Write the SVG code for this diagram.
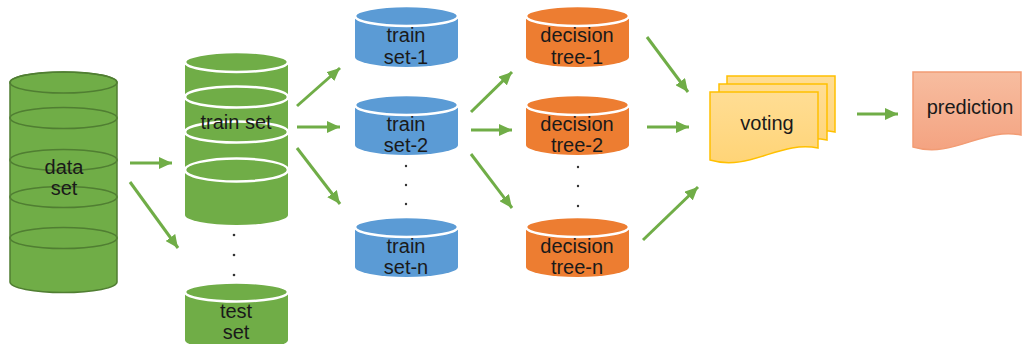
<svg xmlns="http://www.w3.org/2000/svg" width="1022" height="344" viewBox="0 0 1022 344">
  <defs>
    <marker id="head" markerUnits="userSpaceOnUse" markerWidth="14" markerHeight="12" refX="13" refY="6" orient="auto">
      <path d="M0,0 L13,6 L0,12 Z" fill="#70AD47"/>
    </marker>
    <linearGradient id="gVote" x1="0" y1="0" x2="0" y2="1">
      <stop offset="0" stop-color="#FFDD94"/>
      <stop offset="1" stop-color="#FFD477"/>
    </linearGradient>
    <linearGradient id="gPred" x1="0" y1="0" x2="0" y2="1">
      <stop offset="0" stop-color="#F7BDA0"/>
      <stop offset="1" stop-color="#F4A381"/>
    </linearGradient>
  </defs>
  <style>
    text { font-family: "Liberation Sans", Arial, sans-serif; font-size: 20px; fill: #1a1a1a; text-anchor: middle; }
    .green { fill: #70AD47; }
    .blue { fill: #5B9BD5; }
    .orange { fill: #ED7D31; }
    .rim { fill: none; stroke: #FFFFFF; stroke-width: 2.5; }
    .rimDark { fill: none; stroke: #507E32; stroke-width: 1.5; }
    .conn { stroke: #70AD47; stroke-width: 3; fill: none; marker-end: url(#head); }
    .dot { fill: #333333; }
  </style>

  <!-- full data set -->
  <g id="data-set">
    <path class="green" stroke="#507E32" stroke-width="1.5" d="M10,82.5 V282 A53.5,10.5 0 0 0 117,282 V82.5 A53.5,10.5 0 0 0 10,82.5 Z"/>
    <ellipse class="rimDark" cx="63.5" cy="82.5" rx="53.5" ry="10.5"/>
    <ellipse class="rimDark" cx="63.5" cy="118" rx="53.5" ry="10.5"/>
    <ellipse class="rimDark" cx="63.5" cy="160" rx="53.5" ry="10.5"/>
    <ellipse class="rimDark" cx="63.5" cy="197" rx="53.5" ry="10.5"/>
    <ellipse class="rimDark" cx="63.5" cy="238" rx="53.5" ry="10.5"/>
    <text x="64" y="174">data</text>
    <text x="64" y="195">set</text>
  </g>

  <!-- train split -->
  <g id="train-set">
    <path class="green" d="M185,62 V215 A51.5,10 0 0 0 288,215 V62 A51.5,10 0 0 0 185,62 Z"/>
    <ellipse class="rim" cx="236.5" cy="62" rx="51.5" ry="10"/>
    <ellipse class="rim" cx="236.5" cy="97" rx="51.5" ry="10.5"/>
    <ellipse class="rim" cx="236.5" cy="132" rx="51.5" ry="10.5"/>
    <ellipse class="rim" cx="236.5" cy="170" rx="51.5" ry="11.5"/>
    <text x="236" y="129">train set</text>
  </g>

  <g id="split-dots">
    <circle class="dot" cx="234" cy="235" r="1.3"/>
    <circle class="dot" cx="234" cy="255" r="1.3"/>
    <circle class="dot" cx="234" cy="275" r="1.3"/>
  </g>

  <!-- test split -->
  <g id="test-set">
    <path class="green" d="M185,292 V340 A51.5,10 0 0 0 288,340 V292 A51.5,9.5 0 0 0 185,292 Z"/>
    <ellipse class="rim" cx="236.5" cy="292" rx="51.5" ry="9.5"/>
    <text x="236" y="318">test</text>
    <text x="236" y="339">set</text>
  </g>

  <!-- bootstrap samples -->
  <g id="train-set-1">
    <path class="blue" d="M355,16 V57 A51.5,10 0 0 0 458,57 V16 A51.5,10 0 0 0 355,16 Z"/>
    <ellipse class="rim" cx="406.5" cy="16" rx="51.5" ry="10"/>
    <text x="406" y="42">train</text>
    <text x="406" y="64">set-1</text>
  </g>
  <g id="train-set-2">
    <path class="blue" d="M355,105 V145 A51.5,10 0 0 0 458,145 V105 A51.5,10 0 0 0 355,105 Z"/>
    <ellipse class="rim" cx="406.5" cy="105" rx="51.5" ry="10"/>
    <text x="406" y="131">train</text>
    <text x="406" y="152">set-2</text>
  </g>
  <g id="sample-dots">
    <circle class="dot" cx="406" cy="166" r="1.2"/>
    <circle class="dot" cx="406" cy="185" r="1.2"/>
    <circle class="dot" cx="406" cy="204" r="1.2"/>
  </g>
  <g id="train-set-n">
    <path class="blue" d="M355,227 V267 A51.5,10 0 0 0 458,267 V227 A51.5,10 0 0 0 355,227 Z"/>
    <ellipse class="rim" cx="406.5" cy="227" rx="51.5" ry="10"/>
    <text x="406" y="253">train</text>
    <text x="406" y="274">set-n</text>
  </g>

  <!-- trees -->
  <g id="decision-tree-1">
    <path class="orange" d="M526,16 V57 A51.5,10 0 0 0 629,57 V16 A51.5,10 0 0 0 526,16 Z"/>
    <ellipse class="rim" cx="577.5" cy="16" rx="51.5" ry="10"/>
    <text x="577" y="42">decision</text>
    <text x="577" y="64">tree-1</text>
  </g>
  <g id="decision-tree-2">
    <path class="orange" d="M526,105 V145 A51.5,10 0 0 0 629,145 V105 A51.5,10 0 0 0 526,105 Z"/>
    <ellipse class="rim" cx="577.5" cy="105" rx="51.5" ry="10"/>
    <text x="577" y="131">decision</text>
    <text x="577" y="152">tree-2</text>
  </g>
  <g id="tree-dots">
    <circle class="dot" cx="578" cy="167" r="1.2"/>
    <circle class="dot" cx="578" cy="186" r="1.2"/>
    <circle class="dot" cx="578" cy="206" r="1.2"/>
  </g>
  <g id="decision-tree-n">
    <path class="orange" d="M526,227 V267 A51.5,10 0 0 0 629,267 V227 A51.5,10 0 0 0 526,227 Z"/>
    <ellipse class="rim" cx="577.5" cy="227" rx="51.5" ry="10"/>
    <text x="577" y="253">decision</text>
    <text x="577" y="274">tree-n</text>
  </g>

  <!-- stacked documents -->
  <g id="voting" fill="url(#gVote)" stroke="#FFC000" stroke-width="1.5">
    <path transform="translate(17,-16)" d="M710,92 H818 V148 C780,140 750,172 710,160 Z"/>
    <path transform="translate(9,-8)" d="M710,92 H818 V148 C780,140 750,172 710,160 Z"/>
    <path d="M710,92 H818 V148 C780,140 750,172 710,160 Z"/>
    <text x="767" y="130" stroke="none">voting</text>
  </g>

  <g id="prediction">
    <path fill="url(#gPred)" stroke="#F29C74" stroke-width="1.5" d="M913,72 H1021 V135 C983,127 953,159 913,147 Z"/>
    <text x="970" y="114">prediction</text>
  </g>

  <g id="connectors">
    <line class="conn" x1="130" y1="163" x2="172" y2="163"/>
    <line class="conn" x1="130" y1="182" x2="178" y2="248"/>
    <line class="conn" x1="297" y1="106" x2="340" y2="68"/>
    <line class="conn" x1="297" y1="127" x2="340" y2="127"/>
    <line class="conn" x1="297" y1="148" x2="340" y2="204"/>
    <line class="conn" x1="471" y1="112" x2="512" y2="72"/>
    <line class="conn" x1="471" y1="130" x2="512" y2="130"/>
    <line class="conn" x1="471" y1="154" x2="512" y2="208"/>
    <line class="conn" x1="647" y1="37" x2="688" y2="92"/>
    <line class="conn" x1="647" y1="127" x2="689" y2="127"/>
    <line class="conn" x1="643" y1="240" x2="698" y2="187"/>
    <line class="conn" x1="857" y1="114" x2="898" y2="114"/>
  </g>
</svg>
